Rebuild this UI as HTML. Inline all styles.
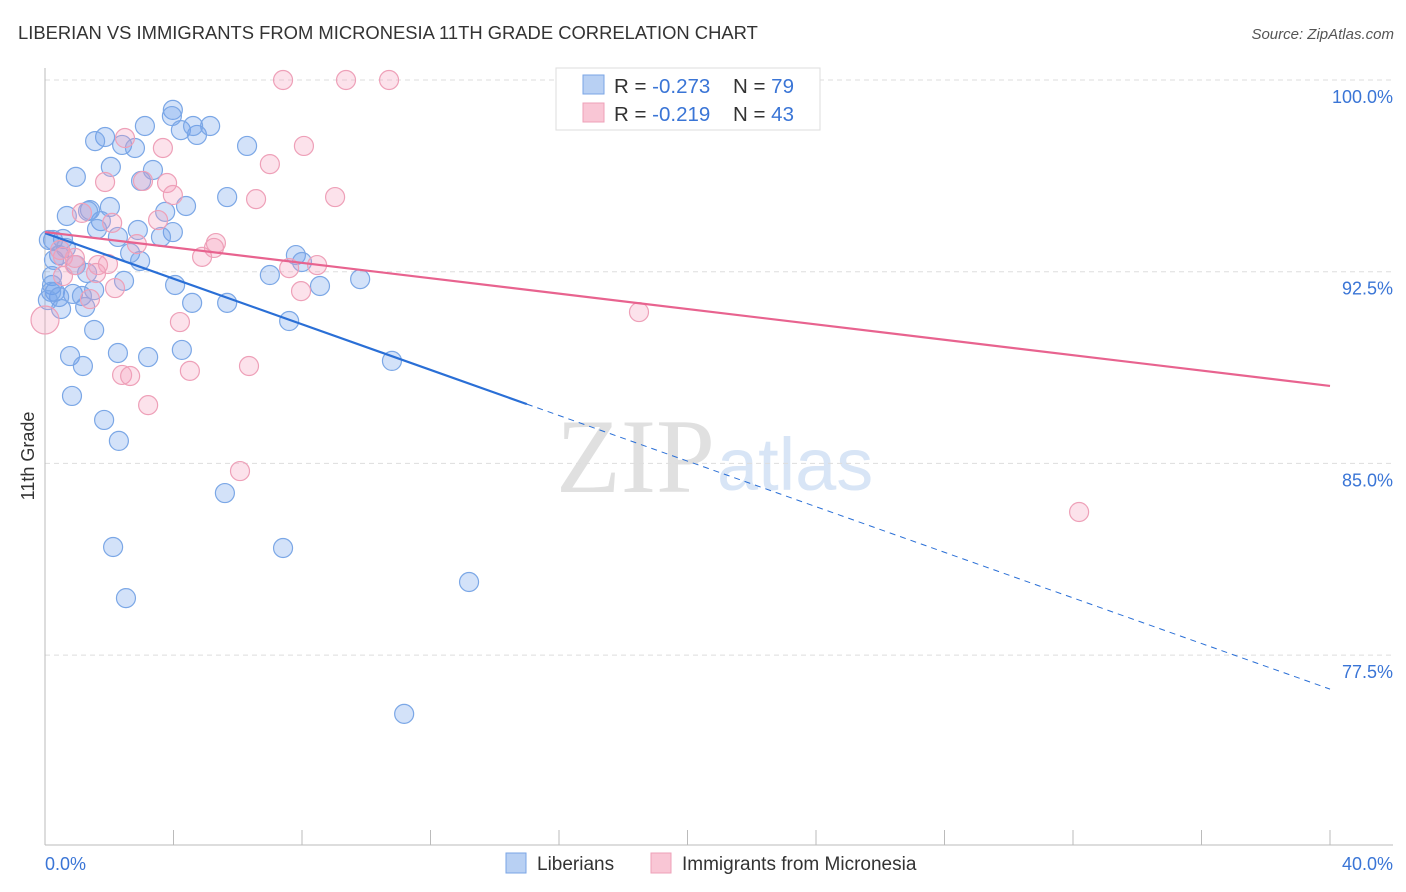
<!DOCTYPE html>
<html><head><meta charset="utf-8"><style>
body{margin:0;background:#fff;font-family:"Liberation Sans",sans-serif}
svg{display:block}
</style></head><body>
<svg id="c" width="1406" height="892">
<text x="18" y="39" font-size="18.4" fill="#333">LIBERIAN VS IMMIGRANTS FROM MICRONESIA 11TH GRADE CORRELATION CHART</text>
<text x="1394" y="39" font-size="15" fill="#555" font-style="italic" text-anchor="end">Source: ZipAtlas.com</text>
<text x="715" y="492" font-size="106" fill="#e0e0e0" text-anchor="end" font-family="Liberation Serif">ZIP</text>
<text x="717" y="490" font-size="74" fill="#d8e5f6">atlas</text>
<text transform="translate(34,456) rotate(-90)" font-size="18" fill="#333" text-anchor="middle">11th Grade</text>
<g id="grid"></g><g id="pts"></g><g id="lines"></g>
<g>
<rect x="556" y="68" width="264" height="62" fill="#fff" stroke="#ddd"/>
<rect x="583" y="75" width="21" height="19" fill="#b8d0f3" stroke="#7aa5e6"/>
<rect x="583" y="103" width="21" height="19" fill="#f9c6d5" stroke="#eea0b8"/>
<text x="614" y="93" font-size="20.5" fill="#333">R = <tspan fill="#3a75d6">-0.273</tspan><tspan x="733">N = </tspan><tspan fill="#3a75d6">79</tspan></text>
<text x="614" y="121" font-size="20.5" fill="#333">R = <tspan fill="#3a75d6"> -0.219</tspan><tspan x="733">N = </tspan><tspan fill="#3a75d6">43</tspan></text>
</g>
<g>
<rect x="506" y="853" width="20" height="20" fill="#b8d0f3" stroke="#7aa5e6"/>
<text x="537" y="870" font-size="19" fill="#333">Liberians</text>
<rect x="651" y="853" width="20" height="20" fill="#f9c6d5" stroke="#eea0b8"/>
<text x="682" y="870" font-size="19" fill="#333">Immigrants from Micronesia</text>
</g>
<text x="45" y="870" font-size="18" fill="#3a75d6">0.0%</text>
<text x="1393" y="870" font-size="18" fill="#3a75d6" text-anchor="end">40.0%</text>
</svg>
<script>
const yTicks=[100,92.5,85,77.5];
const blueX=[3.98,3.95,3.11,4.23,4.73,5.14,4.61,1.87,1.56,2.40,2.80,6.29,2.05,3.36,0.96,2.99,5.67,4.39,2.02,1.40,0.68,3.74,1.74,1.34,1.62,2.89,3.98,2.27,3.61,0.56,0.25,2.65,0.44,2.96,7.81,8.00,7.00,0.96,0.22,1.31,2.46,4.05,8.56,9.81,0.22,0.31,0.87,1.53,1.15,0.44,1.25,4.58,5.67,0.50,7.60,1.53,0.78,2.27,3.21,4.26,1.18,10.80,0.84,1.84,2.30,5.60,2.12,7.41,2.52,13.20,11.18,0.19,0.09,0.28,0.65,0.12];
const blueY=[98.83,98.59,98.20,98.04,97.85,98.20,98.20,97.77,97.61,97.46,97.34,97.42,96.60,96.48,96.21,96.05,95.42,95.07,95.03,94.91,94.68,94.84,94.48,94.87,94.17,94.13,94.05,93.86,93.86,93.78,93.74,93.23,93.15,92.92,93.15,92.88,92.37,92.76,92.33,92.45,92.14,91.98,91.94,92.21,91.98,91.71,91.63,91.78,91.55,91.51,91.12,91.28,91.28,91.04,90.57,90.22,89.20,89.32,89.16,89.44,88.81,89.01,87.64,86.70,85.88,83.84,81.73,81.69,79.73,80.36,75.20,91.71,91.39,92.96,93.43,93.74];
const pinkX=[7.41,9.37,10.71,2.49,8.06,3.67,7.00,1.87,3.05,3.80,3.98,6.57,9.03,3.52,2.09,1.15,2.86,5.32,5.26,4.89,0.56,1.96,1.65,0.93,1.59,7.60,8.47,0.56,2.18,1.40,7.97,4.20,18.49,0.0,6.35,4.51,2.40,2.65,3.21,6.07,32.19,0.47,0.93];
const pinkY=[100,100,100,97.73,97.42,97.34,96.71,96.01,96.05,95.97,95.50,95.34,95.42,94.52,94.41,94.80,93.58,93.62,93.43,93.08,93.08,92.80,92.76,92.76,92.45,92.64,92.76,92.33,91.86,91.43,91.74,90.53,90.92,90.61,88.81,88.62,88.46,88.42,87.28,84.70,83.10,93.35,93.04];
const blueTrend=[94.01,76.17];
const pinkTrend=[94.05,88.03];
const X=v=>45+v*32.125, Y=v=>80+(100-v)*25.56;
const NS='http://www.w3.org/2000/svg';
function mk(t,a,p){const e=document.createElementNS(NS,t);for(const k in a)e.setAttribute(k,a[k]);p.appendChild(e);return e;}
const grid=document.getElementById('grid');
yTicks.forEach(t=>{
 const l=mk('line',{x1:45,x2:1393,y1:Y(t),y2:Y(t),stroke:'#ddd','stroke-dasharray':'5,4'},grid);
 
 
 const tx=mk('text',{x:1393,y:Y(t)+23,'font-size':18,fill:'#3a75d6','text-anchor':'end'},grid);
 tx.textContent=t.toFixed(1)+'%';
 
 
});
mk('line',{x1:45,x2:45,y1:68,y2:845,stroke:'#bbb'},grid);
mk('line',{x1:45,x2:1393,y1:845,y2:845,stroke:'#bbb'},grid);
for(let i=0;i<=10;i++){mk('line',{x1:X(i*4),x2:X(i*4),y1:830,y2:845,stroke:'#bbb'},grid);}
const pts=document.getElementById('pts');
blueX.forEach((x,i)=>{const c=mk('circle',{cx:X(x),cy:Y(blueY[i]),r:9.5,fill:'rgba(110,160,235,0.3)',stroke:'#7ba7e6','stroke-width':1.2},pts);
 
 });
pinkX.forEach((x,i)=>{const c=mk('circle',{cx:X(x),cy:Y(pinkY[i]),r:x===0?14:9.5,fill:'rgba(245,160,190,0.3)',stroke:'#eea0b8','stroke-width':1.2},pts);
 
 });
const ln=document.getElementById('lines');
const bAt=x=>blueTrend[0]+(blueTrend[1]-blueTrend[0])*x/40;
let b1=mk('line',{x1:X(0),y1:Y(bAt(0)),x2:X(15),y2:Y(bAt(15)),stroke:'#2a6fd6','stroke-width':2.2},ln);


let b2=mk('line',{x1:X(15),y1:Y(bAt(15)),x2:X(40),y2:Y(bAt(40)),stroke:'#2a6fd6','stroke-width':1,'stroke-dasharray':'6,5'},ln);


let p1=mk('line',{x1:X(0),y1:Y(pinkTrend[0]),x2:X(40),y2:Y(pinkTrend[1]),stroke:'#e8638f','stroke-width':2.2},ln);


</script>
</body></html>
